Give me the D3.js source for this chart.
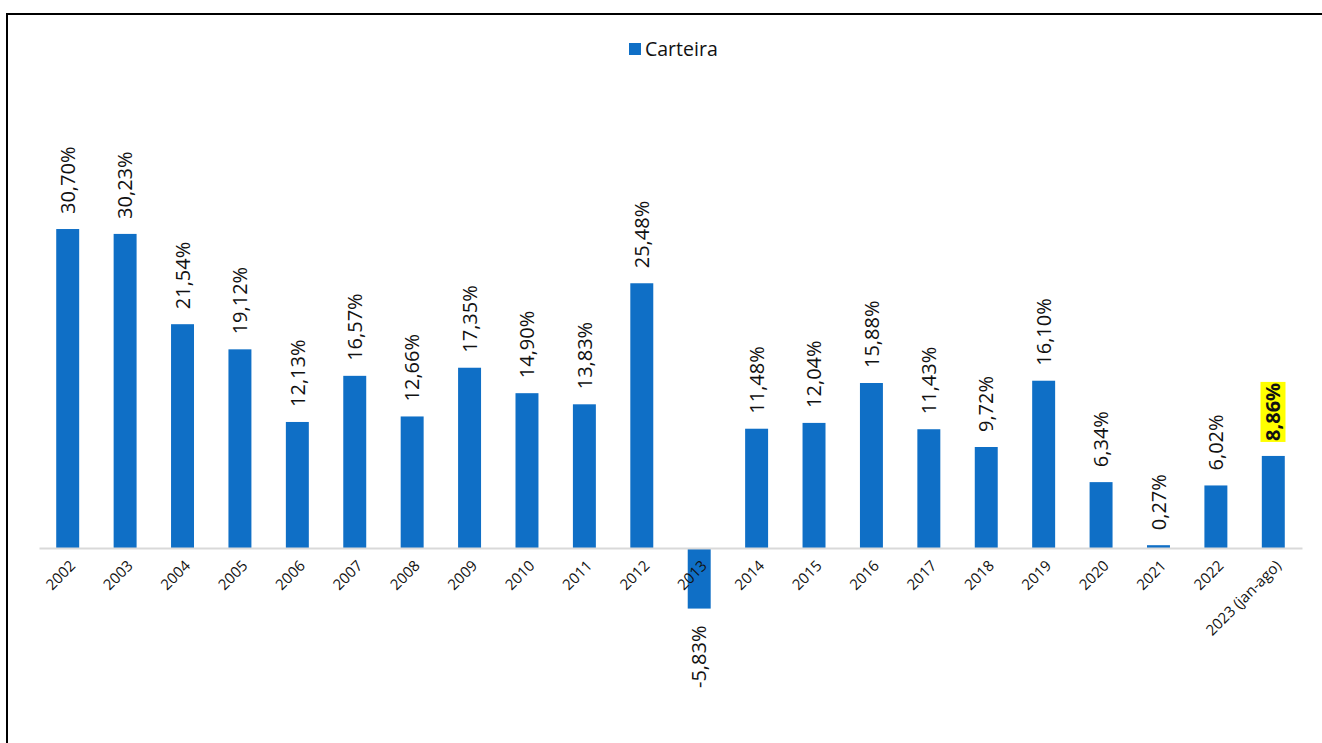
<!DOCTYPE html>
<html>
<head>
<meta charset="utf-8">
<script src="https://cdn.jsdelivr.net/npm/d3@7"></script>
<style>
html,body{margin:0;padding:0;background:#fff;overflow:hidden;}
svg{display:block;font-family:"Open Sans","Noto Sans",sans-serif;}
</style>
</head>
<body>
<svg id="chart" width="1322" height="743"></svg>
<script>
const categories = ["2002","2003","2004","2005","2006","2007","2008","2009","2010","2011","2012","2013","2014","2015","2016","2017","2018","2019","2020","2021","2022","2023 (jan-ago)"];
const values = [30.70,30.23,21.54,19.12,12.13,16.57,12.66,17.35,14.90,13.83,25.48,-5.83,11.48,12.04,15.88,11.43,9.72,16.10,6.34,0.27,6.02,8.86];
const seriesName = "Carteira";
const highlighted = ["2023 (jan-ago)"];

const svg = d3.select("#chart");
const W = 1322, H = 743;
const barColor = "#0F6FC6";

// outer frame (extends past the right and bottom edges)
svg.append("rect").attr("x",7).attr("y",14).attr("width",W+20).attr("height",H+20)
  .attr("fill","none").attr("stroke","#000").attr("stroke-width",2);

const x = d3.scaleBand().domain(categories).range([39,1302]).paddingInner(0.6).paddingOuter(0.3);
const y = d3.scaleLinear().domain([-5.83,30.70]).range([548+5.83*10.39, 548-30.70*10.39]);

const fmt = v => d3.format(".2f")(v).replace(".",",").replace("\u2212","-") + "%";

// bars
svg.append("g").selectAll("rect").data(values).join("rect")
  .attr("x",(d,i)=>x(categories[i]))
  .attr("width",x.bandwidth())
  .attr("y",d=>y(Math.max(0,d)))
  .attr("height",d=>Math.abs(y(d)-y(0)))
  .attr("fill",barColor);

// zero axis line
const axis = d3.axisBottom(x).tickSize(0).tickFormat("");
const gx = svg.append("g").attr("transform",`translate(0,${y(0)})`).call(axis);
gx.select(".domain").attr("stroke","#D9D9D9").attr("stroke-width",2);

// category labels rotated -45
svg.append("g").selectAll("text").data(categories).join("text")
  .attr("transform",d=>`translate(${x(d)+x.bandwidth()/2+5},${y(0)+15}) rotate(-45)`)
  .attr("text-anchor","end").attr("dy","0.35em")
  .attr("font-size",15).attr("fill","#111")
  .text(d=>d);

// value labels
const lbl = svg.append("g");
values.forEach((v,i)=>{
  const c = categories[i];
  const cx = x(c)+x.bandwidth()/2;
  const hi = highlighted.includes(c);
  const g = lbl.append("g");
  let t;
  if (v >= 0) {
    t = g.append("text")
      .attr("transform",`translate(${cx},${y(v)-15}) rotate(-90)`)
      .attr("text-anchor","start");
  } else {
    t = g.append("text")
      .attr("transform",`translate(${cx},${y(v)+17}) rotate(-90)`)
      .attr("text-anchor","end");
  }
  t.attr("dy","0.36em").attr("font-size",20).attr("fill","#111")
   .attr("font-weight",hi?"bold":"normal").text(fmt(v));
  if (hi) {
    const bb = t.node().getBBox();
    g.insert("rect","text")
      .attr("transform",`translate(${cx},${y(v)-15}) rotate(-90)`)
      .attr("x",bb.x-1).attr("y",bb.y+1).attr("width",bb.width+2).attr("height",bb.height-2)
      .attr("fill","#FFFF00");
  }
});

// legend
const leg = svg.append("g");
leg.append("rect").attr("x",629).attr("y",43).attr("width",12).attr("height",12).attr("fill",barColor);
leg.append("text").attr("x",645).attr("y",56).attr("font-size",19.5).attr("fill","#111").text(seriesName);
</script>
</body>
</html>
